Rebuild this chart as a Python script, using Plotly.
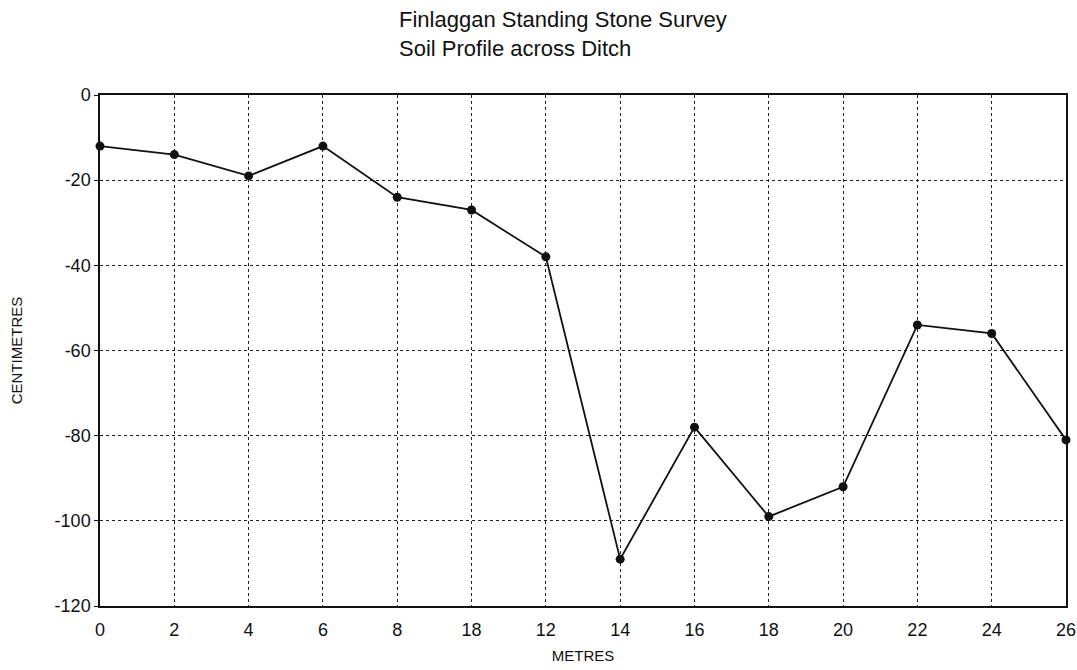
import plotly.graph_objects as go

# Survey stations along the transect (metres) and their printed labels
positions = [0, 2, 4, 6, 8, 10, 12, 14, 16, 18, 20, 22, 24, 26]
station_labels = ["0", "2", "4", "6", "8", "18", "12", "14", "16", "18", "20", "22", "24", "26"]

# Soil surface depth at each station (centimetres)
depth_cm = [-12, -14, -19, -12, -24, -27, -38, -109, -78, -99, -92, -54, -56, -81]

y_ticks = [0, -20, -40, -60, -80, -100, -120]
y_labels = [str(v) for v in y_ticks]  # plain hyphen minus signs

FONT = "Liberation Sans Narrow, Arial Narrow, Liberation Sans, Arial, sans-serif"
INK = "#111111"
GRID = "#222222"

fig = go.Figure()
fig.add_trace(go.Scatter(
    x=positions,
    y=depth_cm,
    mode="lines+markers",
    line=dict(color=INK, width=1.8),
    marker=dict(color=INK, size=9),
    cliponaxis=False,
    showlegend=False,
))

fig.update_layout(
    width=1077,
    height=670,
    paper_bgcolor="white",
    plot_bgcolor="white",
    margin=dict(l=100, r=11, t=95, b=64),
    font=dict(family=FONT, color=INK, size=18),
    annotations=[
        dict(text="Finlaggan Standing Stone Survey<br>Soil Profile across Ditch",
             xref="paper", yref="paper", x=(397 - 100) / 966, y=1,
             xanchor="left", yanchor="bottom", align="left", showarrow=False,
             font=dict(family=FONT, size=22, color=INK),
             yshift=32),
    ],
)

fig.update_xaxes(
    range=[0, 26],
    tickmode="array",
    tickvals=positions,
    ticktext=station_labels,
    showgrid=True,
    gridcolor=GRID,
    griddash="dot",
    gridwidth=1,
    showline=True,
    linecolor=INK,
    linewidth=1.5,
    mirror=True,
    ticks="",
    ticklabelstandoff=7,
    zeroline=False,
    automargin=False,
    tickfont=dict(size=18),
    title=dict(text="METRES", font=dict(size=15), standoff=11),
)
fig.update_yaxes(
    range=[-120, 0],
    tickmode="array",
    tickvals=y_ticks,
    ticktext=y_labels,
    showgrid=True,
    gridcolor=GRID,
    griddash="dot",
    gridwidth=1,
    showline=True,
    linecolor=INK,
    linewidth=1.5,
    mirror=True,
    ticks="outside",
    ticklen=4,
    tickcolor=INK,
    zeroline=False,
    automargin=False,
    tickfont=dict(size=18),
    title=dict(text="CENTIMETRES", font=dict(size=15), standoff=28),
)

fig.write_html("out.html")
